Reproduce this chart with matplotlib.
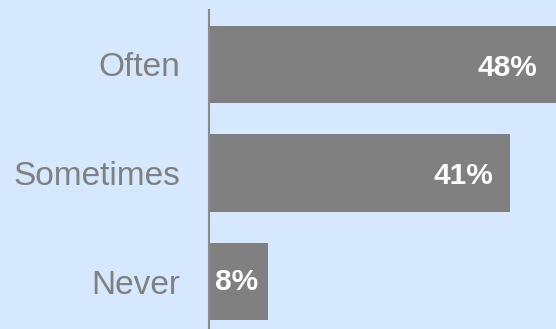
import matplotlib
matplotlib.use("Agg")
import matplotlib.pyplot as plt
import matplotlib.transforms as mtransforms

categories = ["Often", "Sometimes", "Never"]
values = [48, 41, 8]
value_labels = ["48%", "41%", "8%"]

bg = "#d5e8fd"
bar_color = "#808080"
text_color = "#808080"

W, H, DPI = 556, 329, 100
fig = plt.figure(figsize=(W / DPI, H / DPI), dpi=DPI, facecolor=bg)

ax_left, ax_top = 209, 10
ax = fig.add_axes([ax_left / W, 0, 1 - ax_left / W, (H - ax_top) / H])
ax.set_facecolor(bg)

px_per_unit = 7.33
ax.set_xlim(0, (W - ax_left) / px_per_unit)
row_px = 108.5
ax.set_ylim(2 + 47.5 / row_px, -54.5 / row_px)

y = list(range(len(categories)))
ax.barh(y, values, height=0.71, color=bar_color, zorder=2)

for spine in ["top", "right", "bottom"]:
    ax.spines[spine].set_visible(False)
ax.spines["left"].set_color("#8a8a8a")
ax.spines["left"].set_linewidth(1.5)
ax.spines["left"].set_zorder(3)

ax.set_xticks([])
ax.set_yticks(y)
ax.set_yticklabels(categories, fontsize=24, color=text_color, family="Liberation Sans")
ax.tick_params(axis="y", length=0, pad=29 * 72 / DPI)

xmax = ax.get_xlim()[1]
for yi, v, lab in zip(y, values, value_labels):
    if v > 20:
        dx = -19 if v == max(values) else -16
        off = mtransforms.offset_copy(ax.transData, fig=fig, x=dx, y=-3, units="dots")
        ax.text(min(v, xmax), yi, lab, transform=off, ha="right", va="center",
                color="white", fontsize=21.5, fontweight="bold", family="Liberation Sans")
    else:
        off = mtransforms.offset_copy(ax.transData, fig=fig, x=-2, y=-1, units="dots")
        ax.text(v / 2, yi, lab, transform=off, ha="center", va="center",
                color="white", fontsize=21.5, fontweight="bold", family="Liberation Sans")

fig.savefig("out.png", dpi=DPI, facecolor=bg)
